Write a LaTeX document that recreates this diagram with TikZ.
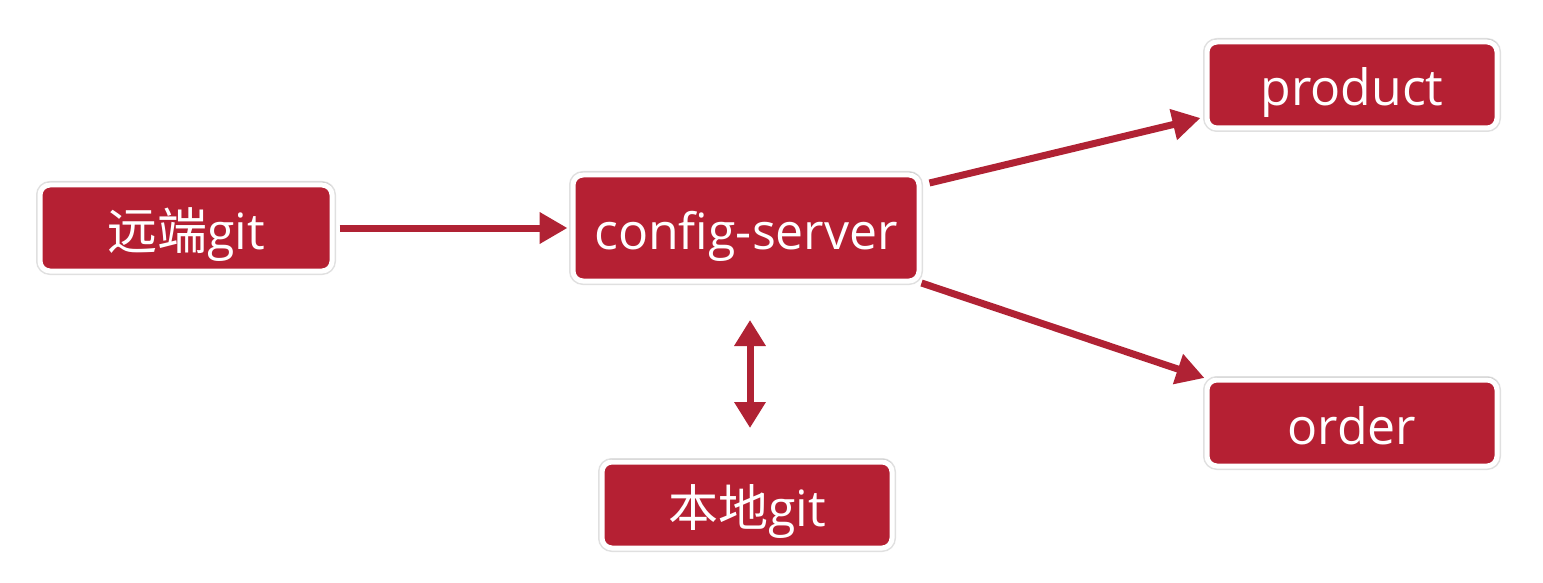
\documentclass[tikz,border=0pt]{standalone}
\usepackage{fontspec}
\setmainfont{Open Sans}
\newfontfamily\cjk{Noto Sans CJK SC}
\usepackage{tikz}
\usetikzlibrary{arrows.meta}
\usetikzlibrary{shadows}

\definecolor{boxred}{RGB}{181,32,51}
\definecolor{arrowred}{RGB}{176,34,52}

\tikzset{
	svcbox/.style={draw=white, line width=5pt, fill=boxred, rounded corners=10pt, text=white,
		font=\fontsize{50}{58}\selectfont, inner sep=0pt, align=center,
		text height=42pt, text depth=0pt,
		preaction={draw=black!12, line width=8pt},
		drop shadow={shadow xshift=1pt, shadow yshift=3pt, opacity=0.25, fill=gray}},
	flow/.style={draw=arrowred, line width=7pt, -{Triangle[length=28pt,width=30pt]}},
	flowboth/.style={draw=arrowred, line width=7pt, {Triangle[length=26pt,width=30pt]}-{Triangle[length=26pt,width=30pt]}}
}

\begin{document}
\begin{tikzpicture}[x=1pt,y=1pt,yscale=-1,xscale=1]
	\useasboundingbox[fill=white] (0,0) rectangle (1543,583);
	
	% Boxes
	\node [svcbox, minimum width=292pt, minimum height=86pt] (remote) at (186,228) {{\cjk 远端}git};
	\node [svcbox, minimum width=346pt, minimum height=106pt] (server) at (746,228) {config-server};
	\node [svcbox, minimum width=290pt, minimum height=86pt] (product) at (1352,85) {product};
	\node [svcbox, minimum width=290pt, minimum height=86pt] (order) at (1352,423) {order};
	\node [svcbox, minimum width=290pt, minimum height=86pt] (local) at (747,505) {{\cjk 本地}git};
	
	% Arrow coordinates
	\coordinate (up) at (750,320);
	\coordinate (down) at (750,428);
	
	% Arrows
	\draw [flow] ([xshift=5pt]remote.east) -- ([xshift=-3pt]server.west);
	\draw [flow] ([xshift=8pt,yshift=-45pt]server.east) -- ([xshift=-4pt,yshift=33pt]product.west);
	\draw [flow] ([xshift=0pt,yshift=55pt]server.east) -- ([xshift=0pt,yshift=-45pt]order.west);
	\draw [flowboth] (up) -- (down);
\end{tikzpicture}
\end{document}
